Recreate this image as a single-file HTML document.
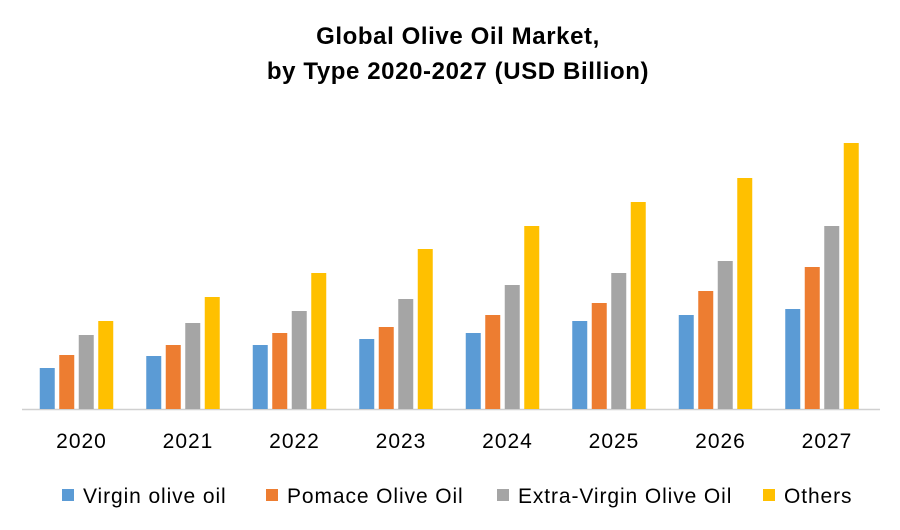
<!DOCTYPE html>
<html><head><meta charset="utf-8"><style>
body{margin:0;background:#fff;}
svg text{font-family:"Liberation Sans",sans-serif;}
</style></head><body>
<svg id="chart" width="900" height="525">
<text x="458" y="44" text-anchor="middle" font-size="24" letter-spacing="0.6" font-weight="bold" fill="#000">Global Olive Oil Market,</text>
<text x="458" y="79" text-anchor="middle" font-size="24" letter-spacing="0.6" font-weight="bold" fill="#000">by Type 2020-2027 (USD Billion)</text>
<line x1="22" y1="409.5" x2="880" y2="409.5" stroke="#d0d0d0" stroke-width="1.5"/>
<g id="bars"></g>
<g id="labels"></g>
<g id="legend"></g>
</svg>
<script>
const categories = ["2020","2021","2022","2023","2024","2025","2026","2027"];
const seriesNames = ["Virgin olive oil","Pomace Olive Oil","Extra-Virgin Olive Oil","Others"];
const virgin = [4.1,5.3,6.4,7.0,7.6,8.8,9.4,10.0];
const pomace = [5.4,6.4,7.6,8.2,9.4,10.6,11.8,14.2];
const extraVirgin = [7.4,8.6,9.8,11.0,12.4,13.6,14.8,18.3];
const others = [8.8,11.2,13.6,16.0,18.3,20.7,23.1,26.6];
const colors = ["#5b9bd5","#ed7d31","#a5a5a5","#ffc000"];
const series = [virgin,pomace,extraVirgin,others];
const NS="http://www.w3.org/2000/svg";
const baseY=409, pxPerUnit=10, x0=76.5, groupStep=106.5, barW=15, barPitch=19.5;
const yScale=v=>baseY-v*pxPerUnit;
const xGroup=i=>x0+i*groupStep;
const gb=document.getElementById('bars'), gl=document.getElementById('labels'), gg=document.getElementById('legend');
categories.forEach((c,i)=>{
  series.forEach((s,k)=>{
    const r=document.createElementNS(NS,'rect');
    const x=xGroup(i)+(k-1.5)*barPitch-barW/2;
    r.setAttribute('x',x);r.setAttribute('y',yScale(s[i]));
    r.setAttribute('width',barW);r.setAttribute('height',baseY-yScale(s[i]));
    r.setAttribute('fill',colors[k]);
    
    
    gb.appendChild(r);
  });
  const t=document.createElementNS(NS,'text');
  t.setAttribute('x',xGroup(i)+5);t.setAttribute('y',448);
  t.setAttribute('text-anchor','middle');t.setAttribute('font-size','21');
  t.setAttribute('letter-spacing','1');
  t.textContent=c;
  
  
  gl.appendChild(t);
});
const legX=[62,266,497,763];
seriesNames.forEach((n,k)=>{
  const r=document.createElementNS(NS,'rect');
  r.setAttribute('x',legX[k]);r.setAttribute('y',489);r.setAttribute('width',12);r.setAttribute('height',12);
  r.setAttribute('fill',colors[k]);
  
  
  gg.appendChild(r);
  const t=document.createElementNS(NS,'text');
  t.setAttribute('x',legX[k]+21);t.setAttribute('y',503);t.setAttribute('font-size','21');
  t.setAttribute('letter-spacing','0.9');
  t.textContent=n;
  
  
  gg.appendChild(t);
});
</script>
</body></html>
